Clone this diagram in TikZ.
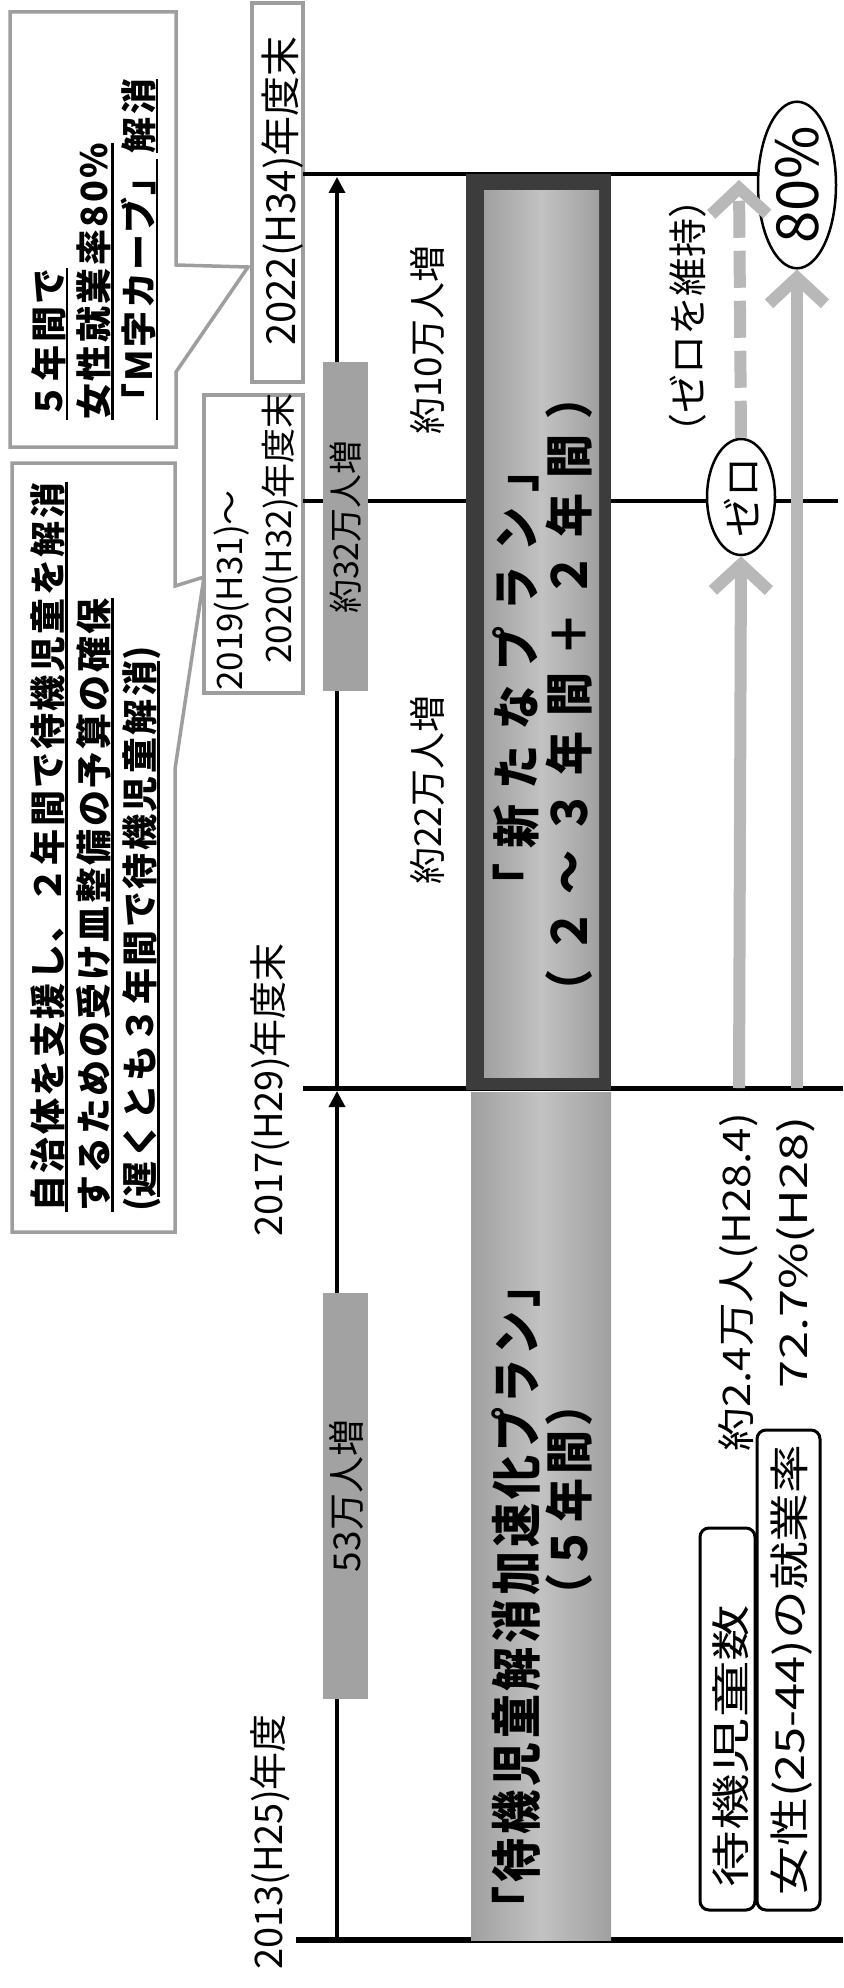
\documentclass[tikz,border=0pt]{standalone}
\usepackage{fontspec}
\setmainfont{Noto Sans CJK JP}
\usepackage{graphicx}
\usetikzlibrary{arrows.meta,shapes.geometric}
\definecolor{bargray}{HTML}{B8B8B8}
\definecolor{boxgray}{HTML}{A2A2A2}
\definecolor{framegray}{HTML}{3C3C3C}
\definecolor{plangray}{HTML}{A0A0A0}
\definecolor{plangrayL}{HTML}{C2C2C2}
\definecolor{bordergray}{HTML}{9E9E9E}
\newcommand{\ulx}[1]{\vtop{\hbox{#1}\kern0.5pt\hrule height 2.5pt}}
\newcommand{\wide}[2]{\scalebox{#1}[1]{#2}}
\newcommand{\tall}[2]{\scalebox{1}[#1]{#2}}
\tikzset{
  lab/.style={rotate=90, inner sep=0pt, font=\fontsize{38}{44}\selectfont},
  calltext/.style={rotate=90, inner sep=0pt, anchor=base west,
    font=\fontsize{36}{42}\selectfont\bfseries\addfontfeature{LetterSpace=7}},
  plantext/.style={rotate=90, inner sep=0pt},
  callbox/.style={draw=bordergray, line width=3.5pt, fill=white, line join=miter},
  lblbox/.style={draw=bordergray, line width=3.5pt, fill=white, inner sep=0pt},
  hline/.style={line width=4pt, black},
  tarrow/.style={line width=3.5pt, -{Triangle[length=16pt,width=16pt]}, shorten >=3pt},
  graybox/.style={fill=boxgray, draw=none, inner sep=0pt},
  gbar/.style={line width=12pt, draw=bargray, -{Straight Barb[length=26pt,width=56pt]}},
  rbox/.style={draw=black, line width=3pt, rounded corners=9pt, fill=white, inner sep=0pt},
  oval/.style={ellipse, draw=black, line width=2.5pt, fill=white, rotate=90, inner sep=0pt},
}
\begin{document}
\begin{tikzpicture}[x=1pt,y=-1pt]
\useasboundingbox (0,0) rectangle (843,1988);
\fill[white] (0,0) rectangle (843,1988);

% callouts
\draw[callbox] (10,12) -- (176,12) -- (176,265) -- (248,267) -- (176,372) -- (176,447) -- (10,447) -- cycle;
\draw[callbox] (12,463) -- (175,463) -- (175,586) -- (204,577) -- (175,769) -- (175,1232) -- (12,1232) -- cycle;

% date label boxes
\node[lblbox, minimum width=51pt, minimum height=379pt] (b22) at (277.5,192.5) {};
\node[lblbox, minimum width=99pt, minimum height=298pt] (b19) at (253.5,544) {};

% horizontal timeline lines
\coordinate (l22a) at (303,174); \coordinate (l22b) at (760,174);
\coordinate (l20a) at (303,501); \coordinate (l20b) at (838,501);
\coordinate (l17a) at (303,1088); \coordinate (l17b) at (843,1088);
\coordinate (l13a) at (296,1940); \coordinate (l13b) at (843,1940);
\draw[hline] (l22a) -- (l22b);
\draw[hline] (l20a) -- (l20b);
\draw[hline, line width=5pt] (l17a) -- (l17b);
\draw[hline, line width=6pt] (l13a) -- (l13b);

% vertical timeline arrows
\coordinate (t13) at (337,1940); \coordinate (t17) at (337,1088); \coordinate (t22) at (337,174);
\draw[tarrow] (t13) -- (t17);
\draw[tarrow] (t17) -- (t22);

% gray increment boxes
\node[graybox, minimum width=45pt, minimum height=329pt] (g32) at (345.5,526.5) {};
\node[graybox, minimum width=45pt, minimum height=406pt] (g53) at (345.5,1496) {};

% plan bands
\fill[framegray] (466,174) rectangle (611,1090);
\shade[left color=plangray, right color=plangray, middle color=plangrayL] (484,191) rectangle (599,1077);
\shade[left color=plangray, right color=plangray, middle color=plangrayL] (471,1092) rectangle (611,1940);

% ellipses
\node[oval, minimum width=116pt, minimum height=68pt, font=\fontsize{40}{44}\selectfont] (zero) at (741,497) {ゼロ};
\node[oval, minimum width=156pt, minimum height=78pt, font=\fontsize{58}{62}\selectfont] (pct) at (797,185) {80\%};

% gray progress arrows
\coordinate (a17) at (739,1088); \coordinate (b17) at (797,1088); \coordinate (aTop) at (739,180);
\draw[gbar] (a17) -- (zero.west);
\draw[gbar, dash pattern=on 37pt off 13pt] (zero.east) -- (aTop);
\draw[gbar] (b17) -- (pct.west);

% right boxes
\node[rbox, minimum width=55pt, minimum height=382pt] (nb1) at (727.5,1719) {};
\node[rbox, minimum width=63pt, minimum height=480pt] (nb2) at (788.5,1670) {};

% callout texts
\node[calltext] (c1a) at (62,420) {\ulx{５年間で}};
\node[calltext] (c1b) at (107,420) {\ulx{女性就業率80\%}};
\node[calltext] (c1c) at (152,420) {\ulx{「M字カーブ」}\,\ulx{解消}};
\node[calltext] (c2a) at (61,1212) {\ulx{自治体を支援し、２年間で待機児童を解消}};
\node[calltext] (c2b) at (107,1212) {\ulx{するための受け皿整備の予算の確保}};
\node[calltext] (c2c) at (153,1212) {(\ulx{遅くとも３年間で待機児童解消})};

% date labels
\node[lab, font=\fontsize{40}{44}\selectfont] (d22) at (283,191) {2022(H34)年度末};
\node[lab] (d17) at (270,1090) {2017(H29)年度末};
\node[lab] (d13) at (270,1842) {2013(H25)年度};
\node[lab, font=\fontsize{35}{40}\selectfont, anchor=west] (d19) at (232,691) {2019(H31)～};
\node[lab, font=\fontsize{35}{40}\selectfont, anchor=west] (d20) at (280,664) {2020(H32)年度末};

% increments
\node[lab, font=\fontsize{37}{44}\selectfont] (i10) at (427,340) {約10万人増};
\node[lab, font=\fontsize{37}{44}\selectfont] (i22) at (427,790) {約22万人増};
\node[lab, font=\fontsize{34}{40}\selectfont] (i32) at (346,527) {約32万人増};
\node[lab, font=\fontsize{37}{44}\selectfont] (i53) at (346,1496) {53万人増};

% plan titles
\node[plantext, font=\fontsize{44}{50}\selectfont\bfseries\addfontfeature{LetterSpace=9}] (op1) at (516,1597) {\tall{1.15}{「待機児童解消加速化プラン」}};
\node[plantext, font=\fontsize{44}{50}\selectfont\bfseries\addfontfeature{LetterSpace=9}] (op2) at (569,1500) {\tall{1.1}{（５年間）}};
\node[plantext, font=\fontsize{44}{50}\selectfont\bfseries\addfontfeature{LetterSpace=35}] (np1) at (516,678) {\tall{1.1}{「新たなプラン」}};
\node[plantext, font=\fontsize{44}{50}\selectfont\bfseries\addfontfeature{LetterSpace=35}] (np2) at (569,694) {\tall{1.1}{（２～３年間＋２年間）}};

% right texts
\node[lab, font=\fontsize{39}{44}\selectfont] (keep) at (688,316) {（ゼロを維持）};
\node[lab, anchor=east, font=\fontsize{38}{44}\selectfont] (n1) at (738,1113) {\wide{1.15}{約2.4万人(H28.4)}};
\node[lab, anchor=east, font=\fontsize{38}{44}\selectfont] (n2) at (796,1116) {\wide{1.33}{72.7\%(H28)}};
\node[lab, font=\fontsize{39}{44}\selectfont] (w1) at (731,1746) {\wide{1.45}{待機児童数}};
\node[lab, font=\fontsize{40}{44}\selectfont] (w2) at (792,1670) {\wide{1.22}{女性(25-44)の就業率}};
\end{tikzpicture}
\end{document}
